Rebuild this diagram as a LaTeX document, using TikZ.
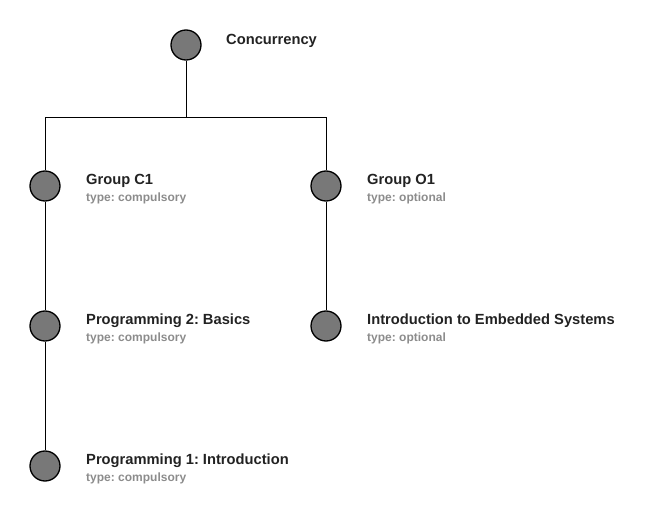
\documentclass[tikz,border=0pt]{standalone}
\usepackage{fontspec}
\setmainfont{Liberation Sans}
\frenchspacing
\definecolor{dotfill}{HTML}{787878}
\definecolor{subgray}{HTML}{8C8C8C}
\definecolor{titlecol}{HTML}{222222}
\begin{document}
\begin{tikzpicture}[x=1pt,y=-1pt,
  dot/.style={circle,draw=black,line width=1.3pt,fill=dotfill,minimum size=30pt,inner sep=0pt},
  ttl/.style={anchor=west,inner sep=0pt,font=\fontsize{14.7}{16}\selectfont\bfseries\frenchspacing,text=titlecol},
  sub/.style={anchor=west,inner sep=0pt,font=\fontsize{12}{13}\selectfont\bfseries\frenchspacing,text=subgray},
  link/.style={draw=black,line width=0.9pt}]
\useasboundingbox (0,0) rectangle (646,516);
\node[dot] (conc) at (186,45) {};
\node[dot] (gc1) at (45,186) {};
\node[dot] (go1) at (326,186) {};
\node[dot] (p2) at (45,326) {};
\node[dot] (emb) at (326,326) {};
\node[dot] (p1) at (45,466) {};
\node[ttl] (tconc) at (226,41) {Concurrency};
\node[ttl] (tgc1) at (86,181) {Group C1};
\node[sub] (sgc1) at (86,198) {type: compulsory};
\node[ttl] (tgo1) at (367,181) {Group O1};
\node[sub] (sgo1) at (367,198) {type: optional};
\node[ttl] (tp2) at (86,321) {Programming 2: Basics};
\node[sub] (sp2) at (86,338) {type: compulsory};
\node[ttl] (temb) at (367,321) {Introduction to Embedded Systems};
\node[sub] (semb) at (367,338) {type: optional};
\node[ttl] (tp1) at (86,461) {Programming 1: Introduction};
\node[sub] (sp1) at (86,478) {type: compulsory};
\coordinate (j) at (186,117);
\path[link] (conc.south) -- (j);
\path[link] (j) -| (gc1.north);
\path[link] (j) -| (go1.north);
\path[link] (gc1.south) -- (p2.north);
\path[link] (p2.south) -- (p1.north);
\path[link] (go1.south) -- (emb.north);
\end{tikzpicture}
\end{document}
